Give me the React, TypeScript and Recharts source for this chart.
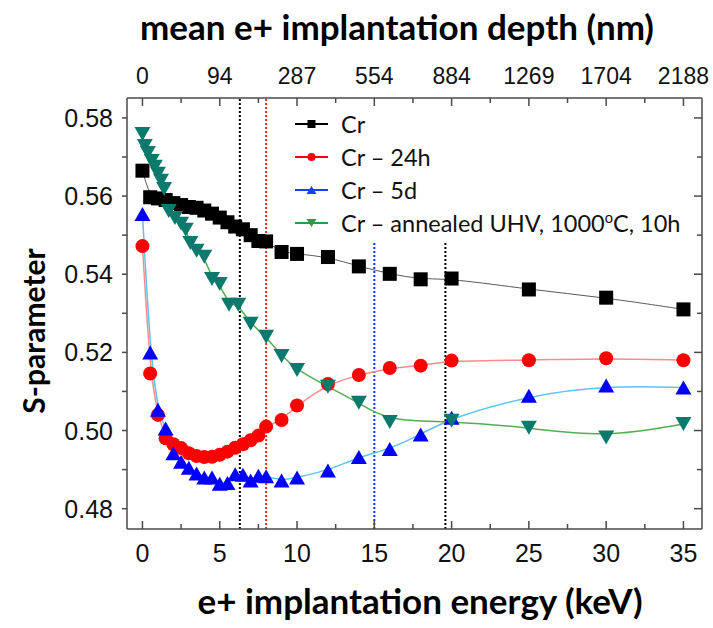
import { LineChart, Line, XAxis, YAxis, ReferenceLine, Legend } from 'recharts';

// positron energies (keV) shared by the Cr, Cr – 24h and Cr – 5d scans
const energies = [0, 0.5, 1, 1.5, 2, 2.5, 3, 3.5, 4, 4.5, 5, 5.5, 6, 6.5, 7, 7.5, 8, 9, 10, 12, 14, 16, 18, 20, 25, 30, 35];

const crValues = [
  0.5665, 0.5597, 0.5594, 0.559, 0.5582, 0.5577, 0.5572, 0.557, 0.5563, 0.5555, 0.5545, 0.5533, 0.5522, 0.5515,
  0.55, 0.5485, 0.5484, 0.5457, 0.5452, 0.5444, 0.542, 0.5401, 0.5387, 0.5389, 0.5361, 0.534, 0.531,
];
const cr24hValues = [
  0.5472, 0.5146, 0.504, 0.498, 0.4965, 0.4955, 0.4942, 0.4935, 0.4932, 0.4933, 0.4938, 0.4946, 0.4956, 0.4965,
  0.4975, 0.4987, 0.501, 0.5027, 0.5064, 0.5119, 0.5142, 0.516, 0.5166, 0.5179, 0.518, 0.5185, 0.518,
];
const cr5dValues = [
  0.5554, 0.52, 0.5053, 0.5005, 0.4942, 0.492, 0.4905, 0.489, 0.488, 0.488, 0.4864, 0.4866, 0.4888, 0.4887,
  0.4872, 0.4884, 0.4883, 0.4872, 0.488, 0.4898, 0.4932, 0.4953, 0.499, 0.5033, 0.5089, 0.5115, 0.511,
];

// annealed sample was measured on its own energy grid
const annealedEnergies = [0, 0.15, 0.35, 0.6, 0.8, 1, 1.2, 1.4, 1.7, 2.1, 2.5, 2.8, 3.1, 3.5, 4, 4.5, 5, 5.6, 6.2, 7, 8, 9, 10, 12, 14, 16, 20, 25, 30, 35];
const annealedValues = [
  0.5759, 0.5728, 0.571, 0.569, 0.5675, 0.5657, 0.5639, 0.5618, 0.5562, 0.5544, 0.5529, 0.5514, 0.548, 0.546,
  0.5445, 0.5388, 0.5375, 0.5322, 0.5322, 0.5273, 0.524, 0.5191, 0.5155, 0.5112, 0.5071, 0.5022, 0.5025, 0.5007,
  0.4982, 0.5017,
];

// axis ticks
const energyTicks = [0, 2.5, 5, 7.5, 10, 12.5, 15, 17.5, 20, 22.5, 25, 27.5, 30, 32.5, 35];
const depthLabels = ['0', '94', '287', '554', '884', '1269', '1704', '2188'];
const sTicks = [0.48, 0.49, 0.5, 0.51, 0.52, 0.53, 0.54, 0.55, 0.56, 0.57, 0.58];

// dotted guide lines: energy, colour, upper end
const guideEnergies = [6.3, 8.0, 15.0, 19.6];
const guideColors = ['#000000', '#ff2020', '#1030ff', '#000000'];
const guideTops = [0.5851, 0.5851, 0.548, 0.548];

const X_DOMAIN: [number, number] = [-1, 36.2];
const Y_DOMAIN: [number, number] = [0.4748, 0.5851];

const AXIS = '#4a4a4a';
const TICK_FONT = { fontFamily: '"Liberation Sans", Arial, sans-serif', fontSize: 25, fill: '#111' };
const TITLE_FONT = { fontFamily: 'Lato, "Open Sans", sans-serif', fontWeight: 700, fill: '#000' };

const toPoints = (xs: number[], ys: number[]) => xs.map((e, i) => ({ e, s: ys[i] }));

type Shape = 'square' | 'circle' | 'up' | 'down';

function Marker({ shape, cx, cy, size, color }: { shape: Shape; cx: number; cy: number; size: number; color: string }) {
  const h = size / 2;
  if (shape === 'square') return <rect x={cx - h} y={cy - h} width={size} height={size} fill={color} />;
  if (shape === 'circle') return <circle cx={cx} cy={cy} r={h} fill={color} />;
  if (shape === 'up')
    return <polygon points={`${cx - h - 1},${cy + h} ${cx + h + 1},${cy + h} ${cx},${cy - h}`} fill={color} />;
  return <polygon points={`${cx - h - 1},${cy - h} ${cx + h + 1},${cy - h} ${cx},${cy + h}`} fill={color} />;
}

const series = [
  { key: 'cr', label: <>Cr</>, data: toPoints(energies, crValues), shape: 'square' as Shape, marker: '#000000', line: '#5a5a5a', legend: '#000000', width: 1, size: 14 },
  { key: 'cr24h', label: <>Cr – 24h</>, data: toPoints(energies, cr24hValues), shape: 'circle' as Shape, marker: '#ff0000', line: '#ff8a8a', legend: '#ff0000', width: 1.5, size: 14 },
  { key: 'cr5d', label: <>Cr – 5d</>, data: toPoints(energies, cr5dValues), shape: 'up' as Shape, marker: '#0000ff', line: '#5cc4f5', legend: '#1a3cff', width: 1.5, size: 14 },
  {
    key: 'annealed',
    label: <>Cr – annealed UHV, 1000<span style={{ fontSize: '0.62em', verticalAlign: 'super', lineHeight: 0 }}>o</span>C, 10h</>,
    data: toPoints(annealedEnergies, annealedValues),
    shape: 'down' as Shape,
    marker: '#0b7a6d',
    line: '#4fb04f',
    legend: '#2e9a48',
    width: 1.5,
    size: 14,
  },
];

function BottomTick({ x, y, payload }: any) {
  const major = payload.value % 5 === 0;
  return (
    <g>
      <line x1={x} x2={x} y1={y} y2={y - (major ? 8 : 5)} stroke={AXIS} strokeWidth={1.5} />
      {major && <text x={x} y={y + 33} textAnchor="middle" {...TICK_FONT}>{payload.value}</text>}
    </g>
  );
}

function TopTick({ x, y, payload }: any) {
  const major = payload.value % 5 === 0;
  return (
    <g>
      <line x1={x} x2={x} y1={y} y2={y + (major ? 8 : 5)} stroke={AXIS} strokeWidth={1.5} />
      {major && <text x={x} y={y - 14} textAnchor="middle" {...TICK_FONT} fontSize={23}>{depthLabels[payload.value / 5]}</text>}
    </g>
  );
}

function LeftTick({ x, y, payload }: any) {
  const major = Math.round(payload.value * 100) % 2 === 0;
  return (
    <g>
      <line x1={x - 5} x2={x} y1={y} y2={y} stroke={AXIS} strokeWidth={1.5} />
      {major && <text x={x - 14} y={y + 9} textAnchor="end" {...TICK_FONT}>{payload.value.toFixed(2)}</text>}
    </g>
  );
}

function RightTick({ x, y, payload }: any) {
  const major = Math.round(payload.value * 100) % 2 === 0;
  return <line x1={x} x2={x - (major ? 8 : 5)} y1={y} y2={y} stroke={AXIS} strokeWidth={1.5} />;
}

function LegendBox() {
  return (
    <div style={{ fontFamily: 'Lato, "Open Sans", sans-serif', fontSize: 23.5, color: '#111' }}>
      {series.map((s) => (
        <div key={s.key} style={{ display: 'flex', alignItems: 'center', height: 33, whiteSpace: 'nowrap' }}>
          <svg width={46} height={20} style={{ flexShrink: 0 }}>
            <line x1={0} x2={33} y1={10} y2={10} stroke={s.legend} strokeWidth={2} />
            <Marker shape={s.shape} cx={16.5} cy={10} size={8} color={s.legend} />
          </svg>
          <span>{s.label}</span>
        </div>
      ))}
    </div>
  );
}

export default function App() {
  return (
    <div style={{ position: 'absolute', left: 0, top: 0, width: 713, height: 628, background: '#fff' }}>
      <LineChart width={713} height={628} margin={{ top: 0, right: 0, bottom: 0, left: 0 }}>
        <XAxis
          xAxisId="bottom"
          type="number"
          dataKey="e"
          domain={X_DOMAIN}
          allowDataOverflow
          ticks={energyTicks}
          interval={0}
          height={99}
          tickSize={0}
          tickMargin={0}
          tickLine={false}
          tick={<BottomTick />}
          axisLine={{ stroke: AXIS, strokeWidth: 1.5 }}
        />
        <XAxis
          xAxisId="top"
          orientation="top"
          type="number"
          dataKey="e"
          domain={X_DOMAIN}
          allowDataOverflow
          ticks={energyTicks}
          interval={0}
          height={98}
          tickSize={0}
          tickMargin={0}
          tickLine={false}
          tick={<TopTick />}
          axisLine={{ stroke: AXIS, strokeWidth: 1.5 }}
        />
        <YAxis
          yAxisId="left"
          type="number"
          domain={Y_DOMAIN}
          allowDataOverflow
          ticks={sTicks}
          interval={0}
          width={127}
          tickSize={0}
          tickMargin={0}
          tickLine={false}
          tick={<LeftTick />}
          axisLine={{ stroke: AXIS, strokeWidth: 1.5 }}
        />
        <YAxis
          yAxisId="right"
          orientation="right"
          type="number"
          domain={Y_DOMAIN}
          allowDataOverflow
          ticks={sTicks}
          interval={0}
          width={11}
          tickSize={0}
          tickMargin={0}
          tickLine={false}
          tick={<RightTick />}
          axisLine={{ stroke: AXIS, strokeWidth: 1.5 }}
        />
        {guideEnergies.map((e, i) => (
          <ReferenceLine
            key={`g${i}`}
            xAxisId="bottom"
            yAxisId="left"
            segment={[{ x: e, y: Y_DOMAIN[0] }, { x: e, y: guideTops[i] }]}
            stroke={guideColors[i]}
            strokeWidth={2}
            strokeDasharray="2 2"
          />
        ))}
        {/* invisible copy of the Cr scan so the top and right frame axes get their scales */}
        <Line
          xAxisId="top"
          yAxisId="right"
          data={series[0].data}
          dataKey="s"
          stroke="none"
          dot={false}
          activeDot={false}
          legendType="none"
          isAnimationActive={false}
        />
        {series.map((s) => (
          <Line
            key={s.key}
            xAxisId="bottom"
            yAxisId="left"
            data={s.data}
            dataKey="s"
            type="basis"
            stroke={s.line}
            strokeWidth={s.width}
            isAnimationActive={false}
            legendType="none"
            dot={(p: any) => (
              <Marker key={`${s.key}-${p.index}`} shape={s.shape} cx={p.cx} cy={p.cy} size={s.size} color={s.marker} />
            )}
            activeDot={false}
          />
        ))}
        <Legend
          layout="vertical"
          align="center"
          verticalAlign="middle"
          content={<LegendBox />}
          wrapperStyle={{ left: 295, top: 107, width: 400 }}
        />
      </LineChart>
      <svg width={713} height={628} style={{ position: 'absolute', left: 0, top: 0, pointerEvents: 'none' }}>
        <text x={397} y={40} textAnchor="middle" fontSize={35} {...TITLE_FONT}>mean e+ implantation depth (nm)</text>
        <text x={420} y={614} textAnchor="middle" fontSize={35} {...TITLE_FONT}>e+ implantation energy (keV)</text>
        <text x={0} y={0} transform="translate(45 331) rotate(-90)" textAnchor="middle" fontSize={30} {...TITLE_FONT}>S-parameter</text>
      </svg>
    </div>
  );
}
